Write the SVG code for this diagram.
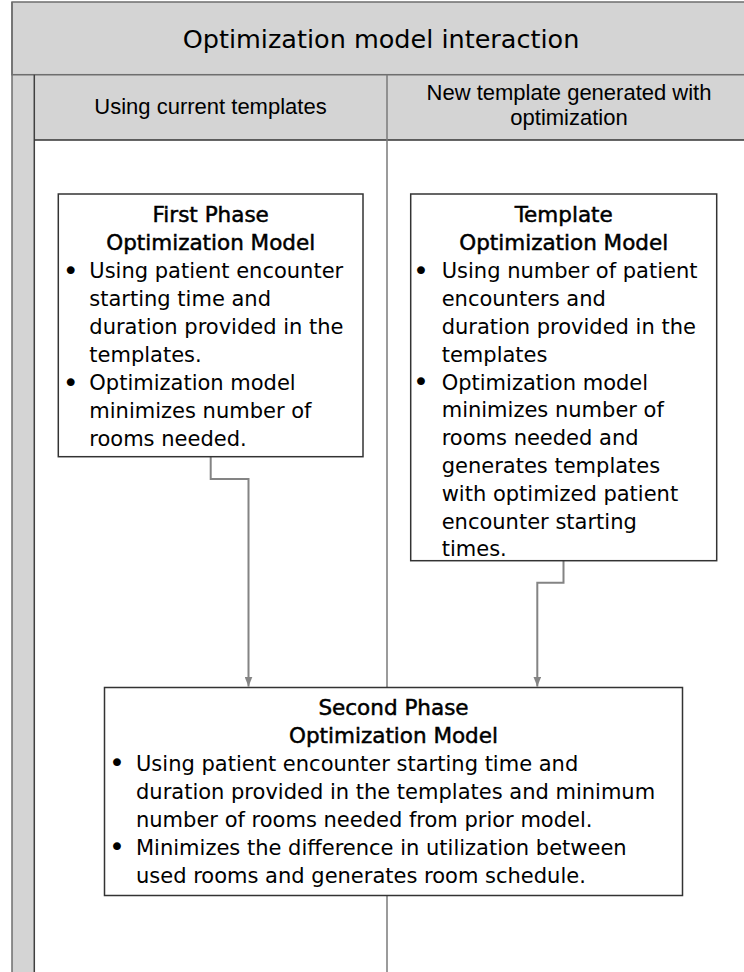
<svg xmlns="http://www.w3.org/2000/svg" width="744" height="972" viewBox="0 0 744 972">
<style>
.band{fill:#d4d4d4;stroke:#6e6e6e;stroke-width:1.5}
.hdr{fill:#d4d4d4;stroke:none}
.title{font-family:"DejaVu Sans",sans-serif;font-size:25.5px;fill:#000;text-anchor:middle}
.col{font-family:"Liberation Sans",Arial,sans-serif;font-size:22px;fill:#000;text-anchor:middle}
.box{fill:#fff;stroke:#333;stroke-width:1.5}
.hd{font-family:"DejaVu Sans",sans-serif;font-size:21.5px;fill:#000;stroke:#000;stroke-width:0.5;text-anchor:middle}
.tx{font-family:"DejaVu Sans",sans-serif;font-size:21px;fill:#000}
.bl{font-family:"DejaVu Sans",sans-serif;font-size:27px;fill:#000;text-anchor:middle}
.conn{fill:none;stroke:#848484;stroke-width:2}
</style>
<defs>
<marker id="arr" viewBox="0 0 10 8" refX="10" refY="4" markerWidth="10" markerHeight="8" markerUnits="userSpaceOnUse" orient="auto">
<path d="M0,0 L10,4 L0,8 Z" fill="#848484"/>
</marker>
</defs>
<rect width="744" height="972" fill="#fff"/>
<g id="frame">
<rect class="band" x="12" y="2" width="760" height="72.7"/>
<text class="title" x="381" y="48.3">Optimization model interaction</text>
<rect class="hdr" x="12" y="74.7" width="760" height="65.3"/>
<rect x="12" y="74.7" width="22.3" height="910" fill="#d4d4d4"/>
<line x1="12" y1="2" x2="12" y2="980" stroke="#6e6e6e" stroke-width="1.5"/>
<line x1="12" y1="74.7" x2="744" y2="74.7" stroke="#6e6e6e" stroke-width="1.5"/>
<line x1="34.3" y1="74.7" x2="34.3" y2="980" stroke="#404040" stroke-width="1.5"/>
<line x1="34.3" y1="140" x2="744" y2="140" stroke="#333" stroke-width="1.5"/>
<line x1="387" y1="74.7" x2="387" y2="980" stroke="#7a7a7a" stroke-width="1.5"/>
<text class="col" x="210.5" y="114">Using current templates</text>
<text class="col" x="569" y="100">New template generated with</text>
<text class="col" x="569" y="125">optimization</text>
</g>
<g id="connectors">
<path class="conn" d="M210.7,456.7 V479 H248.5 V686.5" marker-end="url(#arr)"/>
<path class="conn" d="M563.5,560.7 V582.7 H537.3 V686.5" marker-end="url(#arr)"/>
</g>
<g id="first-phase">
<rect class="box" x="58.3" y="194" width="304.7" height="262.7"/>
<text class="hd" x="210.7" y="221.7">First Phase</text>
<text class="hd" x="210.7" y="250">Optimization Model</text>
<text class="bl" x="70.7" y="280">•</text>
<text class="tx" x="89.3" y="278.3">Using patient encounter</text>
<text class="tx" x="89.3" y="306.3">starting time and</text>
<text class="tx" x="89.3" y="334.3">duration provided in the</text>
<text class="tx" x="89.3" y="362.3">templates.</text>
<text class="bl" x="70.7" y="392">•</text>
<text class="tx" x="89.3" y="390.3">Optimization model</text>
<text class="tx" x="89.3" y="418.3">minimizes number of</text>
<text class="tx" x="89.3" y="446.3">rooms needed.</text>
</g>
<g id="template-model">
<rect class="box" x="410.7" y="194" width="306" height="366.7"/>
<text class="hd" x="563.7" y="221.7">Template</text>
<text class="hd" x="563.7" y="250">Optimization Model</text>
<text class="bl" x="421" y="280">•</text>
<text class="tx" x="441.7" y="278.3">Using number of patient</text>
<text class="tx" x="441.7" y="306.1">encounters and</text>
<text class="tx" x="441.7" y="333.9">duration provided in the</text>
<text class="tx" x="441.7" y="361.7">templates</text>
<text class="bl" x="421" y="391.2">•</text>
<text class="tx" x="441.7" y="389.5">Optimization model</text>
<text class="tx" x="441.7" y="417.3">minimizes number of</text>
<text class="tx" x="441.7" y="445.1">rooms needed and</text>
<text class="tx" x="441.7" y="472.9">generates templates</text>
<text class="tx" x="441.7" y="500.7">with optimized patient</text>
<text class="tx" x="441.7" y="528.5">encounter starting</text>
<text class="tx" x="441.7" y="556.3">times.</text>
</g>
<g id="second-phase">
<rect class="box" x="104.5" y="687.5" width="578" height="208"/>
<text class="hd" x="393.5" y="714.5">Second Phase</text>
<text class="hd" x="393.5" y="742.5">Optimization Model</text>
<text class="bl" x="117" y="772.2">•</text>
<text class="tx" x="136" y="770.5">Using patient encounter starting time and</text>
<text class="tx" x="136" y="798.5">duration provided in the templates and minimum</text>
<text class="tx" x="136" y="826.5">number of rooms needed from prior model.</text>
<text class="bl" x="117" y="856.2">•</text>
<text class="tx" x="136" y="854.5">Minimizes the difference in utilization between</text>
<text class="tx" x="136" y="882.5">used rooms and generates room schedule.</text>
</g>
</svg>
